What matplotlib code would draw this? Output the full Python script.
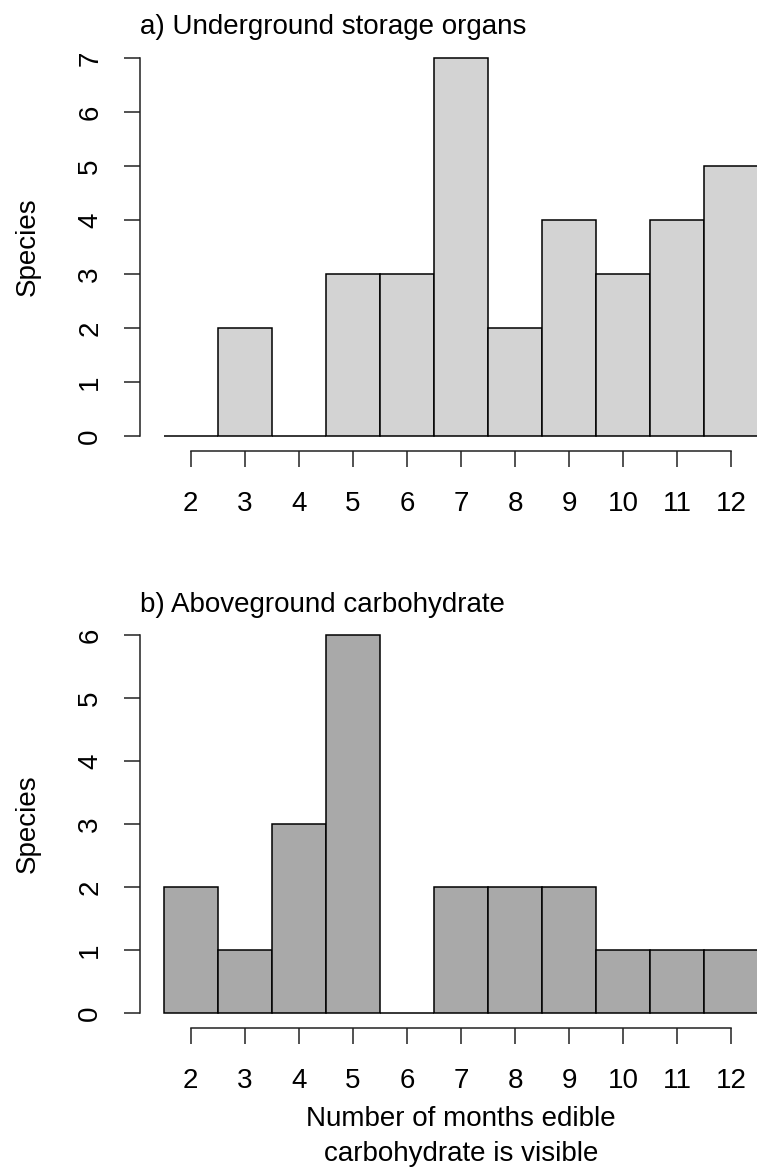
import matplotlib
matplotlib.use("Agg")
import matplotlib.pyplot as plt

plt.rcParams['font.family'] = ['Liberation Sans', 'DejaVu Sans']

months = [2, 3, 4, 5, 6, 7, 8, 9, 10, 11, 12]
underground = [0, 2, 0, 3, 3, 7, 2, 4, 3, 4, 5]
aboveground = [2, 1, 3, 6, 0, 2, 2, 2, 1, 1, 1]
titles = ["a) Underground storage organs", "b) Aboveground carbohydrate"]
colors = ["#D3D3D3", "#A9A9A9"]
ylabel = "Species"
xlabel = "Number of months edible\ncarbohydrate is visible"

W, H = 757, 1169
fig = plt.figure(figsize=(W / 100, H / 100), dpi=100)

def px_axes(x0, y0, x1, y1):
    return fig.add_axes([x0 / W, 1 - y1 / H, (x1 - x0) / W, (y1 - y0) / H])

panels = [
    (px_axes(140, 43, 782, 451), underground, 7),
    (px_axes(140, 620, 782, 1028), aboveground, 6),
]

fs = 20
for i, (ax, vals, ymax) in enumerate(panels):
    ax.bar(months, vals, width=1.0, color=colors[i], edgecolor="black",
           linewidth=1.1, align="center")
    lo, hi = months[0] - 0.5, months[-1] + 0.5
    ext = (hi - lo) * 0.04
    ax.set_xlim(lo - ext, hi + ext)
    ax.set_ylim(-ymax * 0.04, ymax * 1.04)
    for s in ["top", "right"]:
        ax.spines[s].set_visible(False)
    ax.spines["left"].set_bounds(0, ymax)
    ax.spines["bottom"].set_bounds(months[0], months[-1])
    for s in ["left", "bottom"]:
        ax.spines[s].set_linewidth(1.1)
        ax.spines[s].set_color("#222222")
    ax.set_xticks(months)
    ax.set_yticks(range(0, ymax + 1))
    ax.tick_params(axis="both", direction="out", length=11.5, width=1.1,
                   color="#222222", labelsize=fs)
    ax.tick_params(axis="x", pad=17)
    ax.tick_params(axis="y", pad=15)
    for lab in ax.get_yticklabels():
        lab.set_rotation(90)
        lab.set_va("center")
    ax.set_ylabel(ylabel, fontsize=fs, labelpad=26)
    ax.set_title(titles[i], loc="left", fontsize=fs, pad=(6.5 if i == 0 else 6))
    ax.patch.set_visible(False)

panels[1][0].set_xlabel(xlabel, fontsize=fs, labelpad=9, linespacing=1.45)

fig.savefig("out.png", dpi=100, facecolor="white")
